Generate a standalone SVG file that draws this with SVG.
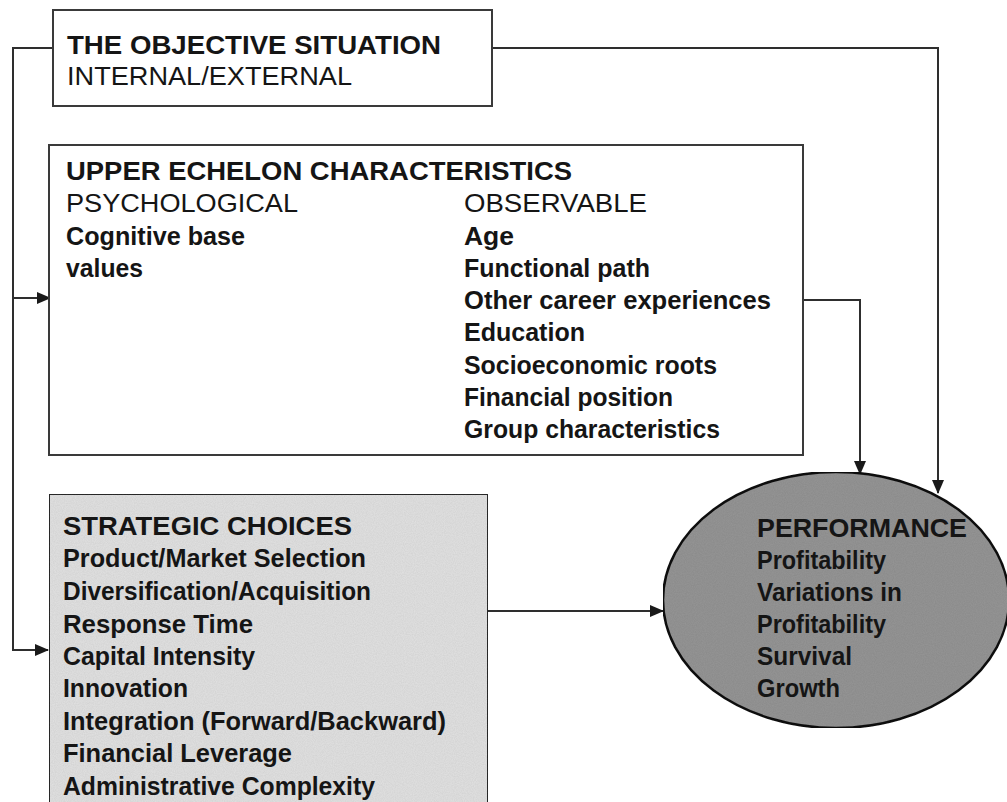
<svg xmlns="http://www.w3.org/2000/svg" width="1007" height="802" viewBox="0 0 1007 802">
  <style>
    .box { fill: #ffffff; stroke: #3a3a3a; stroke-width: 2; }
    .shaded { fill: #e2e2e2; stroke: #2a2a2a; stroke-width: 2; }
    .oval { fill: #959595; stroke: #111111; stroke-width: 2.5; }
    .link { fill: none; stroke: #2e2e2e; stroke-width: 2; }
    text { font-family: "Liberation Sans", Arial, sans-serif; font-size: 26px; fill: #151515; }
    .b { font-weight: bold; }
    .r { font-weight: normal; }
  </style>
  <defs>
    <marker id="arrow" viewBox="0 0 14 12" refX="13" refY="6" markerWidth="14" markerHeight="12" markerUnits="userSpaceOnUse" orient="auto">
      <path d="M0,0 L14,6 L0,12 Z" fill="#1a1a1a"/>
    </marker>
    <filter id="grain" x="0" y="0" width="100%" height="100%">
      <feTurbulence type="fractalNoise" baseFrequency="0.9" numOctaves="2" seed="3" result="n"/>
      <feColorMatrix in="n" type="matrix" values="0 0 0 0 0  0 0 0 0 0  0 0 0 0 0  0 0 0 0.16 0" result="g"/>
      <feComposite in="g" in2="SourceGraphic" operator="atop"/>
    </filter>
  </defs>

  <rect width="1007" height="802" fill="#ffffff"/>

  <!-- connectors -->
  <g id="connectors">
    <path class="link" d="M53,48 H13 V298 H50" marker-end="url(#arrow)"/>
    <path class="link" d="M13,298 V650 H48" marker-end="url(#arrow)"/>
    <path class="link" d="M492,48 H938 V493" marker-end="url(#arrow)"/>
    <path class="link" d="M804,300 H860 V474" marker-end="url(#arrow)"/>
    <path class="link" d="M488,611 H663" marker-end="url(#arrow)"/>
  </g>

  <!-- objective situation -->
  <g id="objective-situation">
    <rect class="box" x="53" y="10" width="439" height="96"/>
    <text class="b" x="67" y="54" textLength="374" lengthAdjust="spacingAndGlyphs">THE OBJECTIVE SITUATION</text>
    <text class="r" x="67" y="85" textLength="285" lengthAdjust="spacingAndGlyphs">INTERNAL/EXTERNAL</text>
  </g>

  <!-- upper echelon characteristics -->
  <g id="upper-echelon">
    <rect class="box" x="49" y="145" width="754" height="310"/>
    <text class="b" x="66" y="180" textLength="506" lengthAdjust="spacingAndGlyphs">UPPER ECHELON CHARACTERISTICS</text>
    <text class="r" x="66" y="212" textLength="232" lengthAdjust="spacingAndGlyphs">PSYCHOLOGICAL</text>
    <text class="b" x="66" y="245" textLength="179" lengthAdjust="spacingAndGlyphs">Cognitive base</text>
    <text class="b" x="66" y="277" textLength="77" lengthAdjust="spacingAndGlyphs">values</text>
    <text class="r" x="464" y="212" textLength="183" lengthAdjust="spacingAndGlyphs">OBSERVABLE</text>
    <text class="b" x="464" y="245" textLength="50" lengthAdjust="spacingAndGlyphs">Age</text>
    <text class="b" x="464" y="277" textLength="186" lengthAdjust="spacingAndGlyphs">Functional path</text>
    <text class="b" x="464" y="309" textLength="307" lengthAdjust="spacingAndGlyphs">Other career experiences</text>
    <text class="b" x="464" y="341" textLength="121" lengthAdjust="spacingAndGlyphs">Education</text>
    <text class="b" x="464" y="374" textLength="253" lengthAdjust="spacingAndGlyphs">Socioeconomic roots</text>
    <text class="b" x="464" y="406" textLength="209" lengthAdjust="spacingAndGlyphs">Financial position</text>
    <text class="b" x="464" y="438" textLength="256" lengthAdjust="spacingAndGlyphs">Group characteristics</text>
  </g>

  <!-- strategic choices -->
  <g id="strategic-choices">
    <rect class="shaded" x="49" y="494" width="439" height="330" filter="url(#grain)"/>
    <text class="b" x="63" y="535" textLength="289" lengthAdjust="spacingAndGlyphs">STRATEGIC CHOICES</text>
    <text class="b" x="63" y="567" textLength="303" lengthAdjust="spacingAndGlyphs">Product/Market Selection</text>
    <text class="b" x="63" y="600" textLength="308" lengthAdjust="spacingAndGlyphs">Diversification/Acquisition</text>
    <text class="b" x="63" y="633" textLength="190" lengthAdjust="spacingAndGlyphs">Response Time</text>
    <text class="b" x="63" y="665" textLength="192" lengthAdjust="spacingAndGlyphs">Capital Intensity</text>
    <text class="b" x="63" y="697" textLength="125" lengthAdjust="spacingAndGlyphs">Innovation</text>
    <text class="b" x="63" y="730" textLength="383" lengthAdjust="spacingAndGlyphs">Integration (Forward/Backward)</text>
    <text class="b" x="63" y="762" textLength="229" lengthAdjust="spacingAndGlyphs">Financial Leverage</text>
    <text class="b" x="63" y="795" textLength="312" lengthAdjust="spacingAndGlyphs">Administrative Complexity</text>
  </g>

  <!-- performance -->
  <g id="performance">
    <ellipse class="oval" cx="836" cy="600" rx="173" ry="128" filter="url(#grain)"/>
    <text class="b" x="757" y="537" textLength="210" lengthAdjust="spacingAndGlyphs">PERFORMANCE</text>
    <text class="b" x="757" y="569" textLength="129" lengthAdjust="spacingAndGlyphs">Profitability</text>
    <text class="b" x="757" y="601" textLength="145" lengthAdjust="spacingAndGlyphs">Variations in</text>
    <text class="b" x="757" y="633" textLength="129" lengthAdjust="spacingAndGlyphs">Profitability</text>
    <text class="b" x="757" y="665" textLength="95" lengthAdjust="spacingAndGlyphs">Survival</text>
    <text class="b" x="757" y="697" textLength="83" lengthAdjust="spacingAndGlyphs">Growth</text>
  </g>
</svg>
